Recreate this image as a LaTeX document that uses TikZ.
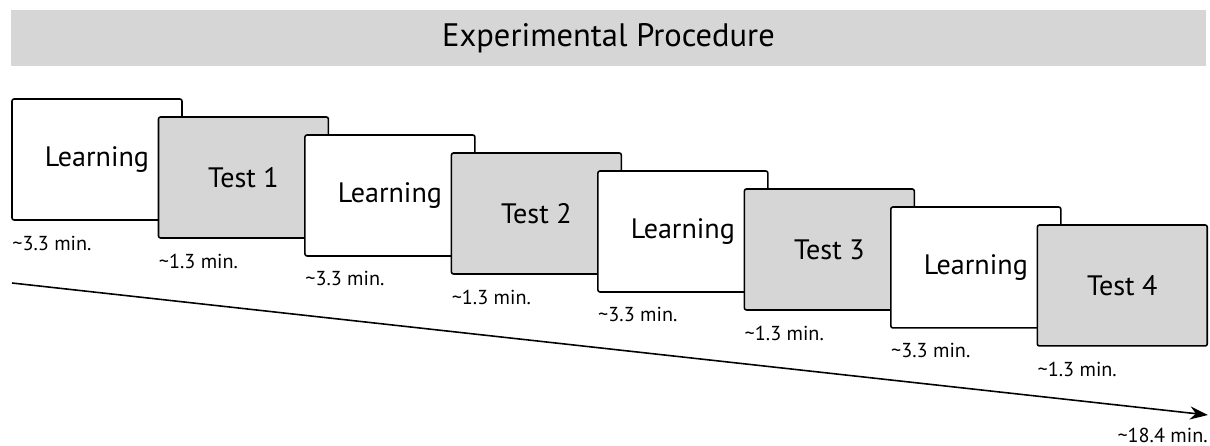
\documentclass[tikz,border=0pt]{standalone}
\usepackage{fontspec}
\setmainfont{PT Sans}
\usepackage{xcolor}
\usetikzlibrary{arrows.meta, positioning}
\definecolor{panelgray}{RGB}{214,214,214}

\begin{document}
\begin{tikzpicture}[
    x=0.02cm, y=-0.02cm,
    stage/.style={rectangle, draw, line width=0.9pt, rounded corners=1.2pt, minimum width=3.4cm, minimum height=2.42cm, anchor=north west, inner sep=0pt, outer sep=0pt, font=\fontsize{16}{19}\selectfont, fill=#1},
    shifted/.style={at={([xshift=2.93cm, yshift=-0.36cm]#1.north west)}},
    dur/.style={anchor=west, inner sep=0pt, font=\fontsize{11.5}{13}\selectfont}
]
\useasboundingbox (0,0) rectangle (1210,446);

\node[fill=panelgray, minimum width=23.9cm, minimum height=1.12cm, font=\fontsize{18.5}{22}\selectfont] (title) at (608.5,38) {Experimental Procedure};

\node[stage=white] (L1) at (12,99) {Learning};
\node[stage=panelgray, shifted=L1] (T1) {Test 1};
\node[stage=white, shifted=T1] (L2) {Learning};
\node[stage=panelgray, shifted=L2] (T2) {Test 2};
\node[stage=white, shifted=T2] (L3) {Learning};
\node[stage=panelgray, shifted=L3] (T3) {Test 3};
\node[stage=white, shifted=T3] (L4) {Learning};
\node[stage=panelgray, shifted=L4] (T4) {Test 4};

\node[dur] (dL1) at ([yshift=-0.46cm]L1.south west) {\textasciitilde3.3 min.};
\node[dur] (dT1) at ([yshift=-0.46cm]T1.south west) {\textasciitilde1.3 min.};
\node[dur] (dL2) at ([yshift=-0.46cm]L2.south west) {\textasciitilde3.3 min.};
\node[dur] (dT2) at ([yshift=-0.46cm]T2.south west) {\textasciitilde1.3 min.};
\node[dur] (dL3) at ([yshift=-0.46cm]L3.south west) {\textasciitilde3.3 min.};
\node[dur] (dT3) at ([yshift=-0.46cm]T3.south west) {\textasciitilde1.3 min.};
\node[dur] (dL4) at ([yshift=-0.46cm]L4.south west) {\textasciitilde3.3 min.};
\node[dur] (dT4) at ([yshift=-0.46cm]T4.south west) {\textasciitilde1.3 min.};

% time axis
\coordinate (start) at (12,283);
\coordinate (end) at (1208,415);
\draw[line width=0.9pt, -{Stealth[length=0.36cm, width=0.26cm]}] (start) -- (end);
\node[dur, anchor=east] (total) at (1208,435) {\textasciitilde18.4 min.};
\end{tikzpicture}
\end{document}
